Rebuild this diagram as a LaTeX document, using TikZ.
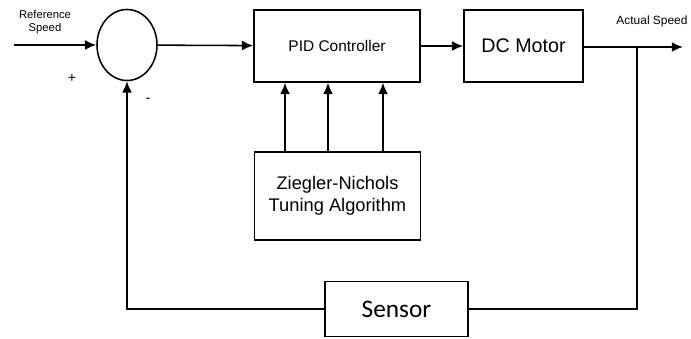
\documentclass[tikz,border=0pt]{standalone}
\usepackage{fontspec}
\setmainfont{Liberation Sans}
\newfontfamily\sensorfont{Carlito}
\usetikzlibrary{shapes.geometric, arrows.meta}

\tikzset{
    block/.style={draw, line width=1.1pt, rectangle, inner sep=2pt},
    sumnode/.style={draw, line width=1.1pt, ellipse, minimum width=1.5cm, minimum height=1.775cm},
    wire/.style={line width=1.1pt},
    >={Latex[length=8pt, width=7pt]}
}

\begin{document}
\begin{tikzpicture}[x=0.025cm, y=-0.025cm]
    \useasboundingbox (0,0) rectangle (691,339);

    \node[sumnode]                                                    (sum)    at (127,45)    {};
    \node[block, minimum width=4.15cm,  minimum height=1.8cm,
          font=\fontsize{11}{13}\selectfont]                          (pid)    at (337,46)    {PID Controller};
    \node[block, minimum width=2.975cm, minimum height=1.8cm,
          font=\fontsize{14}{16}\selectfont]                          (motor)  at (523.5,46)  {DC Motor};
    \node[block, minimum width=4.15cm,  minimum height=2.2cm, align=center,
          font=\fontsize{13}{16}\selectfont]                          (zn)     at (337.5,196) {Ziegler-Nichols\\Tuning Algorithm};
    \node[block, minimum width=3.575cm, minimum height=1.375cm,
          font=\sensorfont\fontsize{18}{20}\selectfont]               (sensor) at (396.5,309) {Sensor};

    \coordinate (in)     at (14,45);
    \coordinate (branch) at (637,47);
    \coordinate (out)    at (683,47);

    \node[align=center, font=\fontsize{8}{9}\selectfont]   (reflabel) at (45,22)  {Reference\\Speed};
    \node[font=\fontsize{8.5}{10}\selectfont]              (actlabel) at (652,21) {Actual Speed};
    \node[font=\fontsize{10}{12}\selectfont]               (plus)     at (72,78)  {+};
    \node[font=\fontsize{10}{12}\selectfont]               (minus)    at (148,100){-};

    \path[wire]
        (in)
            edge [->] (sum)
        (sum)
            edge [->] (pid)
        (pid)
            edge [->] (motor)
        ;
    \draw[wire, ->] (motor.east |- branch) -- (out);

    \foreach \x in {285,328,383}
        \draw[wire, ->] (zn.north -| \x,0) -- (pid.south -| \x,0);

    % feedback loop
    \draw[wire] (branch) |- (sensor.east);
    \draw[wire, ->] (sensor.west) -| (sum.south);
\end{tikzpicture}
\end{document}
